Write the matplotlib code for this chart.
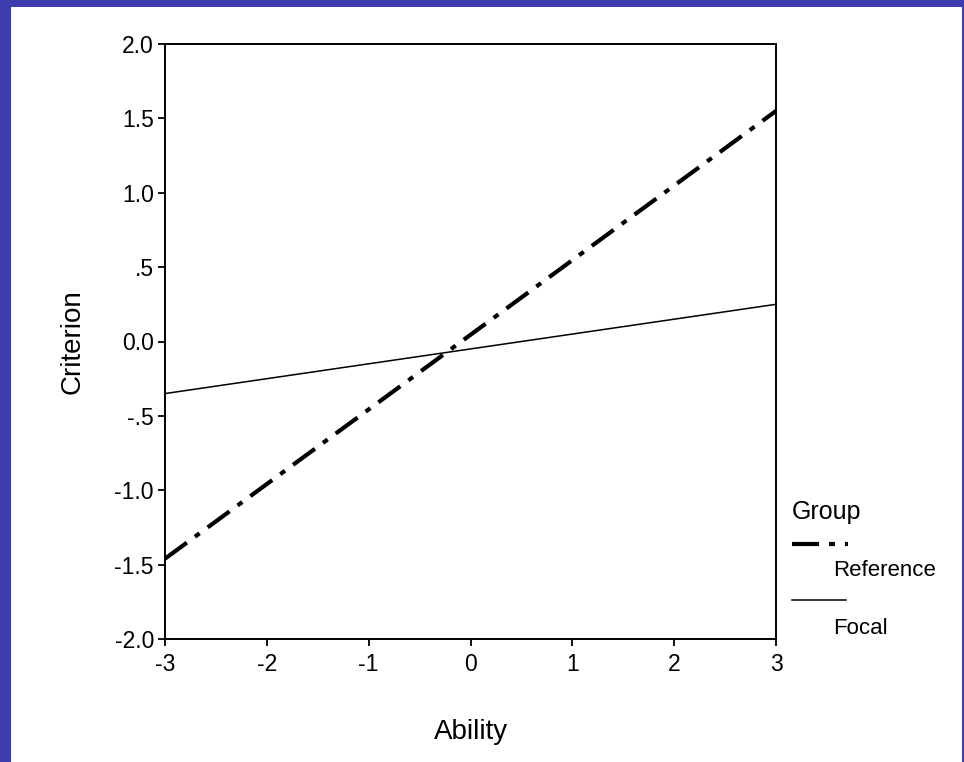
import matplotlib
matplotlib.use("Agg")
import matplotlib.pyplot as plt
from matplotlib.patches import Rectangle
from matplotlib.lines import Line2D

plt.rcParams['font.family'] = ['Liberation Sans', 'DejaVu Sans']

# data
ability = [-3, 3]
reference = [-1.46, 1.55]
focal = [-0.35, 0.25]
group_names = ["Reference", "Focal"]

xticks = [-3, -2, -1, 0, 1, 2, 3]
yticks = [2.0, 1.5, 1.0, 0.5, 0.0, -0.5, -1.0, -1.5, -2.0]
ytick_labels = ["2.0", "1.5", "1.0", ".5", "0.0", "-.5", "-1.0", "-1.5", "-2.0"]

W, H = 964, 762
fig = plt.figure(figsize=(W / 100, H / 100), dpi=100)
fig.patch.set_facecolor('#3d3daf')

# white slide panel behind everything
fig.patches.append(Rectangle((11 / W, 0), (962 - 11) / W, (H - 7) / H,
                             transform=fig.transFigure, facecolor='white',
                             edgecolor='none', zorder=-5))

ax = fig.add_axes([165 / W, 1 - 639 / H, (776 - 165) / W, (639 - 44) / H])
ax.set_zorder(2)
ax.set_facecolor('white')

ref_style = (0, (6.5, 2.4, 1.4, 2.4))
ax.plot(ability, reference, color='black', lw=3, linestyle=ref_style)
ax.plot(ability, focal, color='black', lw=1.1)

ax.set_xlim(-3, 3)
ax.set_ylim(-2, 2)
ax.set_xticks(xticks)
ax.set_xticklabels([str(t) for t in xticks])
ax.set_yticks(yticks)
ax.set_yticklabels(ytick_labels)
ax.tick_params(direction='out', length=5, width=1.3, labelsize=16.5)
ax.tick_params(axis='x', pad=5)
ax.tick_params(axis='y', pad=3)
for s in ax.spines.values():
    s.set_linewidth(1.4)

ax.set_xlabel("Ability", fontsize=20)
ax.xaxis.set_label_coords(0.5, -0.156)
ax.xaxis.label.set_va('center')
ax.set_ylabel("Criterion", fontsize=20)
ax.yaxis.set_label_coords(-0.151, 0.5)
ax.yaxis.label.set_va('center')

# legend drawn in figure coords
fig.text(792 / W, 1 - 512 / H, "Group", fontsize=18, va='center', ha='left')
fig.add_artist(Line2D([792 / W, 848 / W], [1 - 544 / H] * 2, color='black',
                      lw=3, linestyle=ref_style, transform=fig.transFigure))
fig.text(833 / W, 1 - 571 / H, group_names[0], fontsize=16, va='center', ha='left')
fig.add_artist(Line2D([792 / W, 846 / W], [1 - 600 / H] * 2, color='black',
                      lw=1.1, transform=fig.transFigure))
fig.text(833 / W, 1 - 629 / H, group_names[1], fontsize=16, va='center', ha='left')

fig.savefig("out.png", dpi=100, facecolor=fig.get_facecolor())
